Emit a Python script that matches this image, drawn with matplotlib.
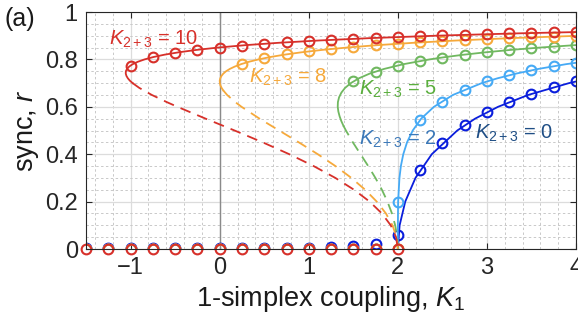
import matplotlib.pyplot as plt
from matplotlib.ticker import MultipleLocator

plt.rcParams['font.family'] = ['Liberation Sans', 'DejaVu Sans']
plt.rcParams['mathtext.fontset'] = 'custom'
plt.rcParams['mathtext.rm'] = 'Liberation Sans'
plt.rcParams['mathtext.it'] = 'Liberation Sans:italic'

# K_{2+3} = 10 : stable (upper) and unstable (dashed) branches, r vs K1
r10_solid = [0.92, 0.91, 0.90, 0.89, 0.88, 0.87, 0.86, 0.85, 0.84, 0.83, 0.82, 0.81,
             0.80, 0.79, 0.78, 0.77, 0.76, 0.75, 0.74, 0.73, 0.72, 0.71, 0.70]
k10_solid = [4.557, 3.354, 2.426, 1.699, 1.121, 0.658, 0.284, -0.018, -0.263, -0.460,
             -0.619, -0.745, -0.844, -0.920, -0.977, -1.016, -1.041, -1.054, -1.055,
             -1.047, -1.031, -1.008, -0.978]
r10_dash = [0.70, 0.68, 0.65, 0.62, 0.60, 0.55, 0.50, 0.45, 0.40, 0.35, 0.30, 0.25,
            0.20, 0.15, 0.10, 0.05, 0.0]
k10_dash = [-0.978, -0.904, -0.762, -0.595, -0.475, -0.158, 0.167, 0.483, 0.781, 1.054,
            1.298, 1.508, 1.683, 1.821, 1.920, 1.980, 2.0]

# K_{2+3} = 8
r8_solid = [0.90, 0.89, 0.88, 0.87, 0.86, 0.85, 0.84, 0.83, 0.82, 0.81, 0.80, 0.79,
            0.78, 0.77, 0.76, 0.75, 0.74, 0.73, 0.72, 0.71, 0.70, 0.69, 0.68, 0.67]
k8_solid = [4.046, 3.283, 2.670, 2.172, 1.763, 1.427, 1.148, 0.918, 0.726, 0.567, 0.436,
            0.328, 0.240, 0.170, 0.114, 0.071, 0.040, 0.019, 0.006, 0.000, 0.002, 0.008,
            0.021, 0.038]
r8_dash = [0.67, 0.65, 0.62, 0.60, 0.55, 0.50, 0.45, 0.40, 0.35, 0.30, 0.25, 0.20,
           0.15, 0.10, 0.05, 0.0]
k8_dash = [0.038, 0.083, 0.174, 0.245, 0.447, 0.667, 0.888, 1.101, 1.299, 1.478, 1.633,
           1.763, 1.866, 1.940, 1.985, 2.0]

# K_{2+3} = 5
r5_solid = [0.87, 0.86, 0.85, 0.84, 0.83, 0.82, 0.81, 0.80, 0.78, 0.76, 0.74, 0.72,
            0.70, 0.68, 0.66, 0.64, 0.62, 0.60, 0.58, 0.56, 0.54, 0.52]
k5_solid = [4.442, 3.982, 3.595, 3.265, 2.985, 2.743, 2.535, 2.356, 2.065, 1.847, 1.683,
            1.561, 1.472, 1.408, 1.366, 1.340, 1.327, 1.325, 1.332, 1.346, 1.365, 1.389]
r5_dash = [0.52, 0.50, 0.45, 0.40, 0.35, 0.30, 0.25, 0.20, 0.15, 0.10, 0.05, 0.0]
k5_dash = [1.389, 1.417, 1.495, 1.581, 1.667, 1.748, 1.821, 1.883, 1.934, 1.970, 1.993, 2.0]

# K_{2+3} = 2 and K_{2+3} = 0 (continuous transitions)
r2_line = [0.0, 0.1, 0.2, 0.3, 0.35, 0.4, 0.45, 0.5, 0.55, 0.6, 0.65, 0.7, 0.72, 0.74,
           0.76, 0.78, 0.80]
k2_line = [2.0, 2.0, 2.003, 2.018, 2.034, 2.061, 2.103, 2.167, 2.262, 2.405, 2.618,
           2.942, 3.116, 3.326, 3.580, 3.890, 4.276]
r0_line = [0.0, 0.1, 0.2, 0.3, 0.4, 0.5, 0.55, 0.6, 0.65, 0.7, 0.72]
k0_line = [2.0, 2.020, 2.083, 2.198, 2.381, 2.667, 2.867, 3.125, 3.463, 3.922, 4.153]

# simulation points, incoherent branch
k1_low = [-1.5, -1.25, -1.0, -0.75, -0.5, -0.25, 0.0, 0.25, 0.5, 0.75, 1.0, 1.25, 1.5,
          1.75, 2.0]
r_low_zero = [0, 0, 0, 0, 0, 0, 0, 0, 0, 0, 0, 0, 0, 0, 0]
k1_low_b = [-1.5, -1.25, -1.0, -0.75, -0.5, -0.25, 0.0, 0.25, 0.5, 0.75, 1.0, 1.25, 1.5,
            1.75]
r_low_lb = [0, 0, 0, 0, 0, 0, 0, 0, 0, 0, 0, 0, 0, 0]
r_low_b = [0.003, 0.003, 0.003, 0.003, 0.004, 0.004, 0.004, 0.004, 0.005, 0.005, 0.006,
           0.010, 0.012, 0.020]

# simulation points, synchronized branch
k10_pts = [-1.0, -0.75, -0.5, -0.25, 0.0, 0.25, 0.5, 0.75, 1.0, 1.25, 1.5, 1.75, 2.0,
           2.25, 2.5, 2.75, 3.0, 3.25, 3.5, 3.75, 4.0]
r10_pts = [0.773, 0.809, 0.828, 0.840, 0.849, 0.857, 0.866, 0.872, 0.877, 0.882, 0.886,
           0.890, 0.894, 0.898, 0.902, 0.905, 0.908, 0.910, 0.912, 0.914, 0.916]
k8_pts = [0.25, 0.5, 0.75, 1.0, 1.25, 1.5, 1.75, 2.0, 2.25, 2.5, 2.75, 3.0, 3.25, 3.5,
          3.75, 4.0]
r8_pts = [0.781, 0.805, 0.821, 0.834, 0.844, 0.852, 0.860, 0.866, 0.872, 0.877, 0.881,
          0.885, 0.889, 0.893, 0.896, 0.899]
k5_pts = [1.5, 1.75, 2.0, 2.25, 2.5, 2.75, 3.0, 3.25, 3.5, 3.75, 4.0]
r5_pts = [0.707, 0.748, 0.774, 0.793, 0.808, 0.820, 0.830, 0.840, 0.847, 0.854, 0.861]
k2_pts = [2.0, 2.25, 2.5, 2.75, 3.0, 3.25, 3.5, 3.75, 4.0]
r2_pts = [0.20, 0.545, 0.622, 0.670, 0.707, 0.733, 0.754, 0.772, 0.786]
k0_pts = [2.0, 2.25, 2.5, 2.75, 3.0, 3.25, 3.5, 3.75, 4.0]
r0_pts = [0.06, 0.333, 0.447, 0.522, 0.577, 0.620, 0.655, 0.683, 0.707]

x_ticks = [-1, 0, 1, 2, 3, 4]
y_ticks = [0, 0.2, 0.4, 0.6, 0.8, 1]
y_ticklabels = ['0', '0.2', '0.4', '0.6', '0.8', '1']

c_red = '#d7302a'
c_orange = '#f6a93b'
c_green = '#70b860'
c_lblue = '#46aaf5'
c_blue = '#0a1edc'

fig = plt.figure(figsize=(5.78, 3.22), dpi=100)
ax = fig.add_axes([0.149, 0.2267, 0.8475, 0.736])

ax.set_xlim(-1.5, 4)
ax.set_ylim(0, 1)
ax.set_xticks(x_ticks)
ax.set_yticks(y_ticks, y_ticklabels)
ax.xaxis.set_minor_locator(MultipleLocator(0.2))
ax.yaxis.set_minor_locator(MultipleLocator(0.05))
ax.grid(which='major', color='#dcdcdc', lw=0.9, ls='-')
ax.grid(which='minor', color='#c9c9c9', lw=0.7, ls=(0, (2.5, 2.5)))
ax.set_axisbelow(True)
ax.axvline(0, color='#8a8a8a', lw=1.0, zorder=1)

ax.tick_params(which='major', direction='in', length=4, width=0.8, top=True, right=True,
               labelsize=17, colors='#262626', pad=6)
ax.tick_params(which='minor', length=0, top=True, right=True)
for s in ax.spines.values():
    s.set_color('#262626')
    s.set_linewidth(0.8)

mk = dict(marker='o', mfc='none', ms=7, mew=1.5, ls='none')
dash = (0, (6, 4))

# K = 0
ax.plot(k0_line, r0_line, color=c_blue, lw=1.3)
ax.plot(k0_pts, r0_pts, color=c_blue, **mk)
ax.plot(k1_low_b, r_low_b, color=c_blue, **mk)
# K = 2
ax.plot(k2_line, r2_line, color=c_lblue, lw=1.3)
ax.plot(k2_pts, r2_pts, color=c_lblue, **mk)
ax.plot(k1_low_b, r_low_lb, color=c_lblue, **mk)
# K = 5
ax.plot(k5_solid, r5_solid, color=c_green, lw=1.3)
ax.plot(k5_dash, r5_dash, color=c_green, lw=1.3, ls=dash)
ax.plot(k5_pts, r5_pts, color=c_green, **mk)
ax.plot(k1_low, r_low_zero, color=c_green, **mk)
# K = 8
ax.plot(k8_solid, r8_solid, color=c_orange, lw=1.3)
ax.plot(k8_dash, r8_dash, color=c_orange, lw=1.3, ls=dash)
ax.plot(k8_pts, r8_pts, color=c_orange, **mk)
ax.plot(k1_low, r_low_zero, color=c_orange, **mk)
# K = 10
ax.plot(k10_solid, r10_solid, color=c_red, lw=1.3)
ax.plot(k10_dash, r10_dash, color=c_red, lw=1.3, ls=dash)
ax.plot(k10_pts, r10_pts, color=c_red, **mk)
ax.plot(k1_low, r_low_zero, color=c_red, clip_on=False, **mk)

lab = r'$K_{\mathrm{2+3}}$ = '
ax.text(-1.24, 0.864, lab + '10', color=c_red, fontsize=14.5, va='baseline')
ax.text(0.33, 0.700, lab + '8', color=c_orange, fontsize=14.5, va='baseline')
ax.text(1.56, 0.650, lab + '5', color='#5aae3d', fontsize=14.5, va='baseline')
ax.text(1.56, 0.442, lab + '2', color='#3b78b8', fontsize=14.5, va='baseline')
ax.text(2.87, 0.467, lab + '0', color='#1f4e85', fontsize=14.5, va='baseline')

ax.set_xlabel(r'1-simplex coupling, $K_1$', fontsize=19.5, color='#1a1a1a', labelpad=3)
ax.set_ylabel(r'sync, $r$', fontsize=19.5, color='#1a1a1a', labelpad=3)
fig.text(0.008, 0.92, '(a)', fontsize=18, color='#1a1a1a')

fig.savefig('out.png', dpi=100)
